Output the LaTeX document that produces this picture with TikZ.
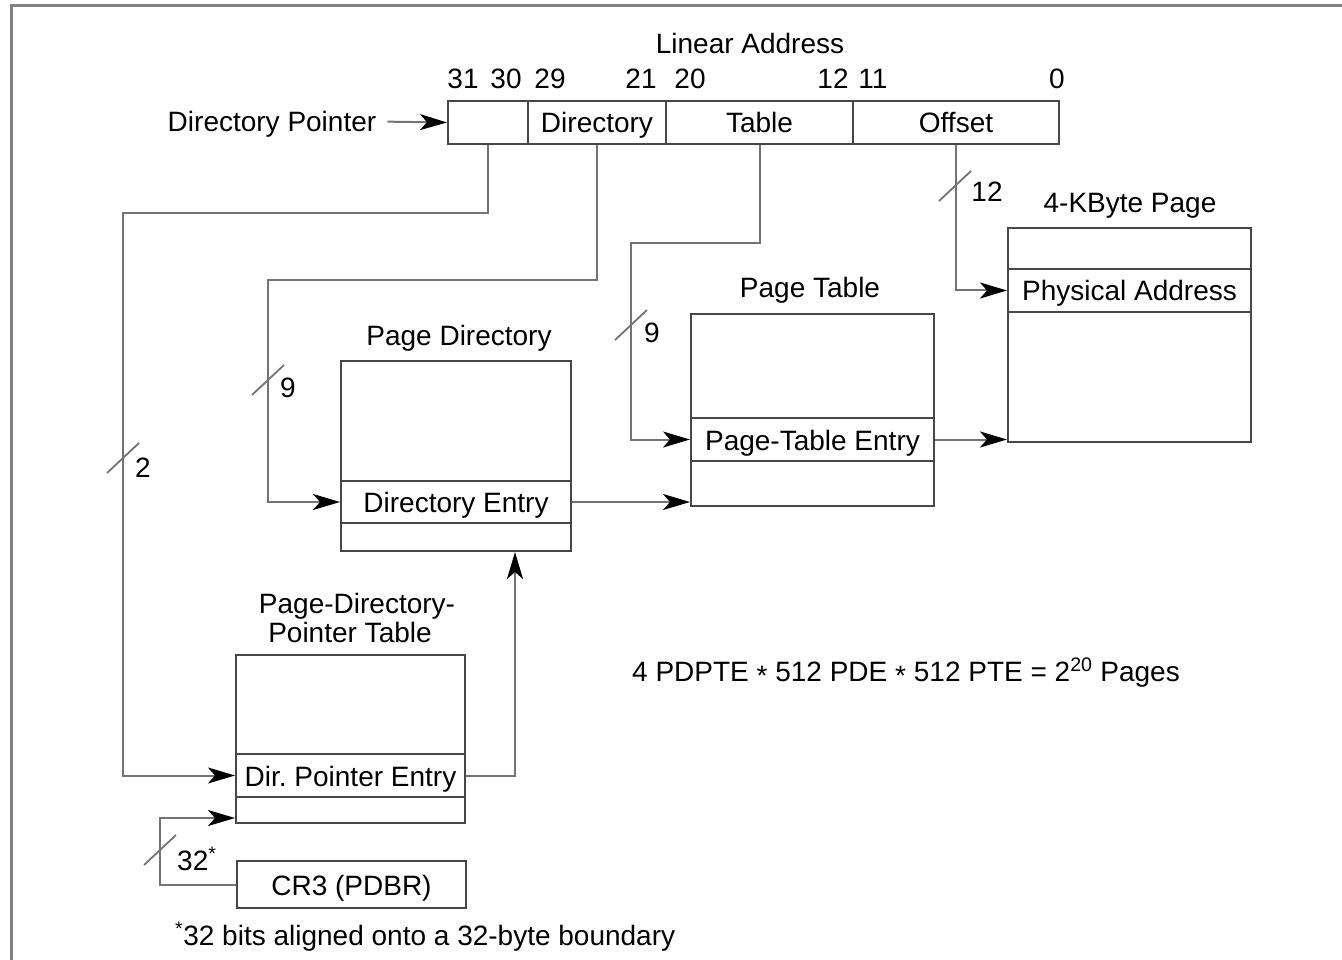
\documentclass[tikz,border=0pt]{standalone}
\usepackage{fontspec}
\setmainfont{Liberation Sans}
\usetikzlibrary{arrows.meta,calc}
\begin{document}
\begin{tikzpicture}[x=1pt,y=-1pt,
  every node/.style={font=\fontsize{28}{32}\selectfont, inner sep=0pt, text=black},
  lbl/.style={anchor=base},
  cell/.style={draw=black!72, line width=2pt, rectangle, anchor=north west,
    text height=21pt, text depth=0pt},
  conn/.style={draw=black!55, line width=2pt},
  tip/.style={-{Stealth[length=27pt,width=16pt,inset=7pt,black]}},
  busmark/.pic={\draw[black!55, line width=1.8pt] (-16,15) -- (16,-15);},
]
\useasboundingbox (0,0) rectangle (1342,960);

% frame
\draw[black!50, line width=3pt] (11,960) -- (11,6) -- (1342,6);

% linear address fields
\node[lbl] (lat) at (750,54) {Linear Address};
\node[cell, minimum width=80pt,  minimum height=43pt] (f1)   at (447,100) {};
\node[cell, minimum width=138pt, minimum height=43pt] (fdir) at (527,100) {Directory};
\node[cell, minimum width=187pt, minimum height=43pt] (ftab) at (665,100) {Table};
\node[cell, minimum width=206pt, minimum height=43pt] (foff) at (852,100) {Offset};
\foreach \x/\b [count=\i] in {463/31,506/30,550/29,641/21,690/20,833/12,873/11,1057/0}
  \node[lbl] (bit\i) at (\x,89) {\b};

\node[text height=21pt, text depth=0pt] (dp) at (272,121.5) {Directory Pointer};
\draw[conn,tip,shorten <=11pt] (dp.east) -- (f1.west);

% page directory
\node[lbl] (pdt) at (459,345) {Page Directory};
\node[cell, minimum width=230pt, minimum height=190pt] (pd)  at (340,360) {};
\node[cell, minimum width=230pt, minimum height=42pt]  (pde) at (340,480) {Directory Entry};

% page table
\node[lbl] (ptt) at (810,298) {Page Table};
\node[cell, minimum width=243pt, minimum height=192pt] (pt)  at (690,313) {};
\node[cell, minimum width=243pt, minimum height=43pt]  (pte) at (690,417) {Page-Table Entry};

% 4-KByte page
\node[lbl] (pgt) at (1130,213) {4-KByte Page};
\node[cell, minimum width=243pt, minimum height=214pt] (pg) at (1007,227) {};
\node[cell, minimum width=243pt, minimum height=43pt]  (pa) at (1007,268) {Physical Address};

% page-directory-pointer table
\node[lbl] (pdptt1) at (357,613) {Page-Directory-};
\node[lbl] (pdptt2) at (350,642) {Pointer Table};
\node[cell, minimum width=229pt, minimum height=168pt] (pdpt) at (235,654) {};
\node[cell, minimum width=229pt, minimum height=43pt]  (dpe)  at (235,753) {Dir.\ Pointer Entry};

% CR3
\node[cell, minimum width=229pt, minimum height=47pt] (cr3) at (236,860) {CR3 (PDBR)};

% routing corners
\coordinate (k2)  at (123,213);
\coordinate (k9a) at (268,280);
\coordinate (k9b) at (631,243);
\coordinate (k32) at (160,818);

% connectors
\draw[conn,tip] (f1.south) |- (k2) |- (dpe.west);
\draw[conn,tip] (fdir.south) |- (k9a) |- (pde.west);
\draw[conn,tip] (ftab.south) |- (k9b) |- (pte.west);
\draw[conn,tip] (foff.south) |- (pa.west);
\draw[conn,tip] (pde.east) -- (pde.east -| pt.west);
\draw[conn,tip] (pte.east) -- (pte.east -| pg.west);
\draw[conn,tip] (dpe.east) -| ([xshift=59pt]pd.south);
\draw[conn,tip] (cr3.west) -| (k32) -- (k32 -| pdpt.west);

% bus widths
\pic at (123,458) {busmark};
\node[lbl] (w2) at (143,477) {2};
\pic at (268,380) {busmark};
\node[lbl] (w9a) at (288,397) {9};
\pic at (631,325) {busmark};
\node[lbl] (w9b) at (652,342) {9};
\pic at (955,186) {busmark};
\node[lbl] (w12) at (987,202) {12};
\pic at (160,850) {busmark};
\node[lbl, anchor=base west] (w32) at (177,870) {32\textsuperscript{*}};

% notes
\node[lbl, anchor=base west] (sum) at (632,681)
  {4 PDPTE \raisebox{-0.3ex}{*} 512 PDE \raisebox{-0.3ex}{*} 512 PTE = 2\textsuperscript{20} Pages};
\node[lbl, anchor=base west] (fn) at (175,945)
  {\textsuperscript{*}32 bits aligned onto a 32-byte boundary};
\end{tikzpicture}
\end{document}
